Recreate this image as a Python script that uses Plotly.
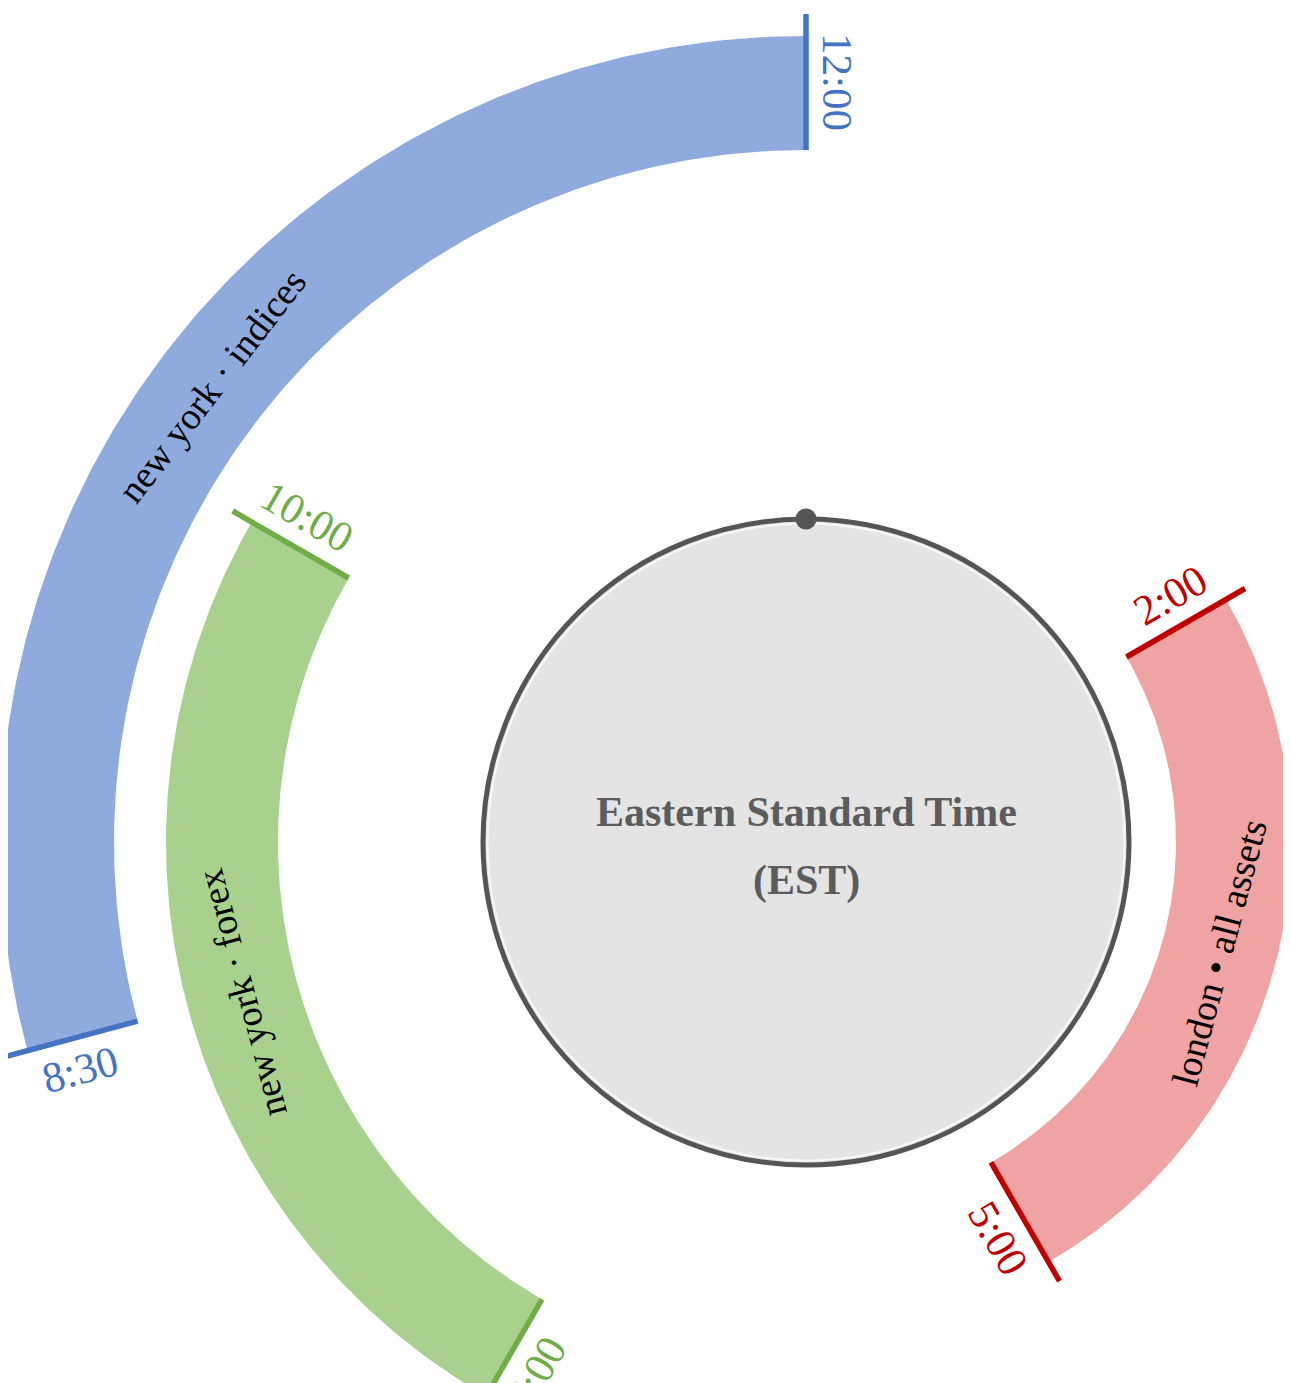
import numpy as np
import plotly.graph_objects as go

# trading sessions on a 12 hour dial (EST)
sessions = ["new york · indices", "new york · forex", "london • all assets"]
start_hours = [8.5, 7, 2]
end_hours = [12, 10, 5]
start_labels = ["8:30", "7:00", "2:00"]
end_labels = ["12:00", "10:00", "5:00"]
center_title = ["Eastern Standard Time", "(EST)"]

# styling
fills = ["#8faadc", "#a9d18e", "#efa3a3"]
accents = ["#4472c4", "#70ad47", "#c00000"]
r_inner = [692, 528, 370]
r_outer = [806, 640, 485]
FONT = "Liberation Serif"
W, H = 1291, 1383
PAD = 8  # page body margin
CX, CY = 806 - PAD, 842 - PAD  # dial centre inside the plot area


def ang(h):
    return np.radians(h * 30.0)


def xy(h, r):
    t = ang(h)
    return r * np.sin(t), r * np.cos(t)


def norm(a):
    while a > 90:
        a -= 180
    while a <= -90:
        a += 180
    return a


fig = go.Figure()
annotations = []

for i, name in enumerate(sessions):
    h0, h1 = start_hours[i], end_hours[i]
    hh = np.linspace(h0, h1, 160)
    xo, yo = xy(hh, r_outer[i])
    xi, yi = xy(hh[::-1], r_inner[i])
    fig.add_scatter(x=np.r_[xo, xi, xo[:1]], y=np.r_[yo, yi, yo[:1]], mode="lines",
                    fill="toself", fillcolor=fills[i], line=dict(width=0),
                    hoverinfo="skip", showlegend=False)

    # band name, tangent to the arc
    hm = (h0 + h1) / 2
    rm = (r_inner[i] + r_outer[i]) / 2
    mx, my = xy(hm, rm)
    a = hm * 30.0
    if a < 180:
        a -= 180
    if a > 180:
        a -= 360
    annotations.append(dict(x=mx, y=my, text=name, showarrow=False, textangle=a,
                            font=dict(family=FONT, size=38, color="black"),
                            xanchor="center", yanchor="middle"))

    # tick lines and time labels
    for h, lab, side in [(h0, start_labels[i], -1), (h1, end_labels[i], 1)]:
        x0, y0 = xy(h, r_inner[i])
        x1, y1 = xy(h, r_outer[i] + 22)
        fig.add_scatter(x=[x0, x1], y=[y0, y1], mode="lines",
                        line=dict(color=accents[i], width=5.5),
                        hoverinfo="skip", showlegend=False)
        t = ang(h)
        rl = (r_inner[i] + r_outer[i] + 22) / 2
        lx = rl * np.sin(t) + side * 32 * np.cos(t)
        ly = rl * np.cos(t) - side * 32 * np.sin(t)
        sa = np.degrees(np.arctan2(-np.cos(t), np.sin(t)))
        annotations.append(dict(x=lx, y=ly, text=lab, showarrow=False, textangle=norm(sa),
                                font=dict(family=FONT, size=43, color=accents[i]),
                                xanchor="center", yanchor="middle"))

# centre disc
R = 323
shapes = [
    dict(type="circle", xref="x", yref="y", x0=-R, y0=-R, x1=R, y1=R,
         fillcolor="#e4e4e4", line=dict(color="#555555", width=5), layer="below"),
    dict(type="circle", xref="x", yref="y", x0=-R + 4.5, y0=-R + 4.5, x1=R - 4.5, y1=R - 4.5,
         fillcolor="rgba(0,0,0,0)", line=dict(color="#f7f7f7", width=2), layer="below"),
]
dx, dy = xy(0, R)
fig.add_scatter(x=[dx], y=[dy], mode="markers", marker=dict(size=21, color="#555555"),
                hoverinfo="skip", showlegend=False)

annotations.append(dict(x=0, y=30, text="<b>%s</b>" % center_title[0], showarrow=False,
                        font=dict(family=FONT, size=42, color="#5c5c5c")))
annotations.append(dict(x=0, y=-38, text="<b>%s</b>" % center_title[1], showarrow=False,
                        font=dict(family=FONT, size=42, color="#5c5c5c")))

fig.update_layout(width=W, height=H, margin=dict(l=0, r=0, t=0, b=0),
                  plot_bgcolor="white", paper_bgcolor="white",
                  shapes=shapes, annotations=annotations, showlegend=False)
fig.update_xaxes(range=[-CX, W - CX], visible=False, fixedrange=True)
fig.update_yaxes(range=[-(H - CY), CY], visible=False, fixedrange=True)
fig.write_html("out.html")
